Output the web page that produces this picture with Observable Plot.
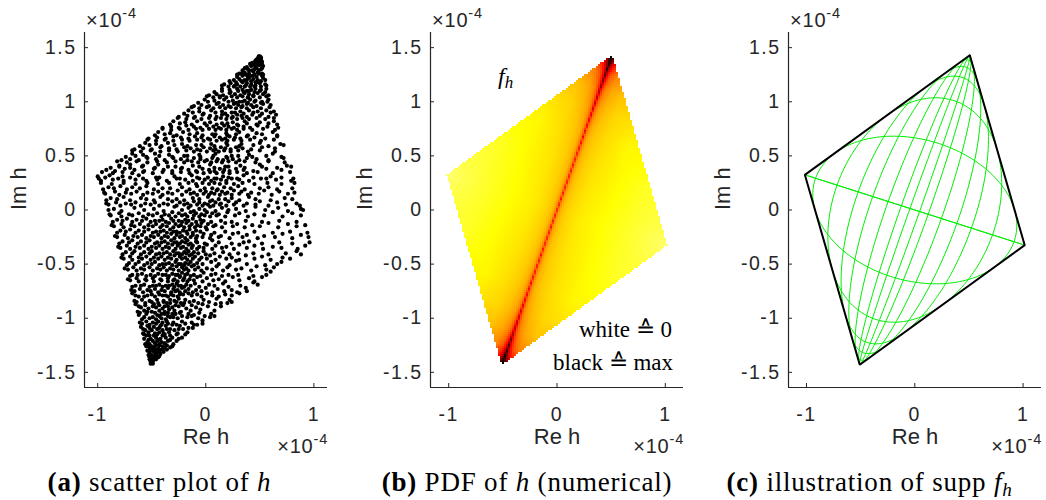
<!DOCTYPE html>
<html>
<head>
<meta charset="utf-8">
<script src="https://cdn.jsdelivr.net/npm/d3@7"></script>
<script src="https://cdn.jsdelivr.net/npm/@observablehq/plot@0.6"></script>
<style>
  body { margin: 0; background: #fff; }
  #fig { position: relative; width: 1046px; height: 500px; overflow: hidden; background: #fff; }
  #fig .panel { position: absolute; top: 0; }
  #fig .panel g[aria-label$="tick label"] text { letter-spacing: 1.5px; }
  #fig svg.overlay { position: absolute; left: 0; top: 0; pointer-events: none; }
</style>
</head>
<body>
<div id="fig"></div>
<script>
// All positions are in units of 1e-4 (the axis exponent).

// Axis ticks shared by the three panels
const xTicks = [-1, 0, 1];
const yTicks = [-1.5, -1, -0.5, 0, 0.5, 1, 1.5];
const yDomain = [-1.64, 1.64];

// Vertices of supp f_h: top, left, bottom, right
const suppCorners = [[0.508, 1.43], [-1.015, 0.325], [-0.508, -1.43], [1.015, -0.325]];

// Phase offsets (degrees) of the inscribed ellipses in panel (c)
const phaseOffsetsDeg = [5, 14, 28, 45, 62, 90, 129, 180];

// Samples of h (Re, Im) in hundredths of 1e-4
const scatterPairs = [
  [-51,-142],[-50,-141],[-51,-140],[-49,-140],[-50,-139],[-52,-138],[-48,-138],[-50,-137],[-47,-137],[-52,-136],[-49,-136],[-45,-136],[-51,-135],[-47,-135],[-43,-135],[-46,-138],
  [-53,-134],[-50,-134],[-46,-133],[-42,-133],[-52,-132],[-48,-131],[-44,-131],[-39,-131],[-54,-130],[-50,-129],[-46,-129],[-41,-129],[-36,-129],[-52,-127],[-48,-127],[-44,-128],[-38,-127],[-33,-127],[-55,-126],[-46,-125],
  [-56,-124],[-52,-124],[-47,-123],[-43,-124],[-38,-123],[-30,-124],[-54,-122],[-49,-121],[-45,-121],[-41,-122],[-35,-121],[-27,-121],[-57,-119],[-51,-119],[-46,-118],[-42,-119],[-37,-118],[-31,-118],[-22,-118],[-55,-116],[-48,-116],[-40,-116],
  [-58,-114],[-53,-113],[-47,-114],[-43,-113],[-39,-114],[-34,-113],[-26,-114],[-17,-113],[-56,-111],[-50,-111],[-45,-110],[-40,-111],[-36,-110],[-29,-111],[-21,-110],[-12,-109],[-60,-108],[-54,-107],[-48,-108],[-42,-107],[-37,-107],[-31,-106],[-24,-107],[-8,-106],
  [-61,-104],[-55,-103],[-49,-104],[-44,-103],[-40,-104],[-36,-103],[-30,-104],[-22,-103],[-13,-104],[-3,-102],[-59,-101],[-52,-100],[-46,-101],[-41,-100],[-37,-101],[-33,-99],[-26,-100],[-17,-99],[-7,-100],[4,-99],[-62,-97],[-55,-96],[-45,-97],[-38,-96],[-28,-96],[-11,-97],
  [-63,-94],[-57,-93],[-50,-94],[-43,-93],[-38,-94],[-34,-92],[-29,-93],[-23,-94],[-14,-93],[-5,-92],[8,-93],[-60,-90],[-53,-91],[-46,-90],[-40,-91],[-35,-89],[-31,-90],[-25,-89],[-18,-91],[-9,-90],[2,-89],[14,-89],[-65,-87],[-48,-87],[-36,-86],[-20,-86],
  [-66,-84],[-59,-83],[-52,-84],[-45,-83],[-39,-84],[-33,-83],[-29,-84],[-25,-82],[-19,-83],[-11,-84],[-2,-83],[10,-82],[22,-83],[-62,-80],[-54,-79],[-47,-80],[-40,-79],[-35,-80],[-30,-79],[-26,-80],[-21,-78],[-13,-79],[-4,-80],[6,-79],[18,-78],[31,-77],[-68,-77],
  [-69,-74],[-61,-73],[-54,-74],[-47,-73],[-41,-74],[-35,-72],[-30,-73],[-26,-74],[-22,-72],[-16,-73],[-9,-74],[0,-72],[11,-73],[24,-74],[37,-72],[-65,-70],[-57,-69],[-49,-70],[-43,-69],[-37,-70],[-31,-69],[-27,-68],[-23,-70],[-18,-69],[-10,-68],[3,-69],[16,-68],[44,-67],
  [-72,-64],[-64,-63],[-56,-64],[-49,-63],[-42,-64],[-35,-63],[-29,-64],[-24,-62],[-20,-63],[-15,-64],[-8,-62],[1,-63],[12,-64],[25,-62],[40,-63],[52,-62],[-68,-60],[-59,-59],[-51,-60],[-44,-59],[-37,-60],[-31,-59],[-26,-60],[-22,-58],[-17,-59],[-11,-60],[-2,-58],[9,-59],[21,-60],[60,-57],
  [-75,-54],[-67,-53],[-60,-54],[-52,-53],[-45,-54],[-39,-53],[-33,-54],[-27,-52],[-22,-53],[-18,-54],[-13,-52],[-7,-53],[1,-54],[10,-52],[20,-53],[33,-54],[47,-52],[63,-53],[-71,-49],[-62,-48],[-54,-49],[-47,-48],[-40,-50],[-34,-49],[-28,-48],[-23,-50],[-19,-49],[-14,-48],[-8,-49],[5,-48],[28,-47],[70,-48],
  [-78,-44],[-70,-43],[-62,-44],[-55,-43],[-48,-44],[-41,-43],[-35,-44],[-29,-42],[-24,-43],[-19,-44],[-15,-42],[-10,-43],[-4,-44],[4,-42],[13,-43],[24,-44],[37,-42],[52,-43],[71,-44],[-74,-39],[-66,-38],[-57,-39],[-50,-38],[-43,-40],[-36,-39],[-30,-38],[-25,-40],[-20,-39],[-16,-38],[-11,-39],[-2,-38],[16,-39],[84,-38],
  [-81,-34],[-73,-33],[-65,-34],[-57,-33],[-50,-34],[-43,-33],[-37,-34],[-31,-32],[-26,-33],[-21,-34],[-16,-32],[-12,-33],[-6,-34],[1,-32],[9,-33],[19,-34],[31,-32],[45,-33],[62,-34],[92,-33],[-77,-29],[-68,-28],[-60,-29],[-52,-28],[-45,-30],[-38,-29],[-32,-28],[-27,-30],[-22,-29],[-17,-28],[-9,-29],[6,-28],[40,-29],
  [-84,-24],[-75,-23],[-67,-24],[-59,-23],[-51,-24],[-44,-23],[-38,-24],[-32,-22],[-27,-23],[-22,-24],[-17,-22],[-12,-23],[-8,-24],[-2,-22],[5,-23],[14,-24],[25,-22],[38,-23],[54,-24],[71,-22],[88,-23],[-79,-19],[-70,-18],[-62,-19],[-53,-18],[-46,-20],[-39,-19],[-33,-18],[-27,-20],[-21,-19],[-15,-18],[-9,-19],[1,-18],
  [-87,-14],[-78,-13],[-69,-14],[-61,-13],[-53,-14],[-46,-13],[-40,-14],[-34,-12],[-28,-13],[-23,-14],[-18,-12],[-13,-13],[-8,-14],[-4,-12],[2,-13],[9,-14],[18,-12],[29,-13],[43,-14],[58,-12],[76,-13],[92,-14],[-82,-9],[-73,-8],[-64,-9],[-55,-8],[-47,-10],[-40,-9],[-32,-8],[-25,-10],[-19,-9],[-12,-8],[-5,-9],
  [-89,-4],[-80,-3],[-71,-4],[-62,-3],[-53,-4],[-45,-3],[-38,-4],[-31,-2],[-25,-3],[-19,-4],[-14,-2],[-9,-3],[-4,-4],[1,-2],[6,-3],[12,-4],[20,-2],[31,-3],[45,-4],[62,-2],[80,-3],[-85,1],[-66,2],[-48,1],[-29,3],[-16,2],[-6,1],[4,3],[15,2],[28,1],[46,3],[67,2],[88,1],
  [-92,6],[-83,7],[-74,6],[-65,7],[-56,6],[-47,7],[-39,6],[-31,8],[-24,7],[-17,6],[-11,8],[-6,7],[-1,6],[4,8],[9,7],[14,6],[21,8],[28,7],[38,6],[50,8],[66,7],[84,6],[-88,11],[-76,12],[-60,11],[-42,12],[-27,10],[-12,11],[2,12],[12,10],[24,11],[40,12],[73,11],
  [-94,16],[-84,17],[-74,16],[-64,17],[-54,16],[-44,17],[-35,16],[-26,18],[-18,17],[-11,16],[-5,18],[0,17],[5,16],[10,18],[15,17],[20,16],[26,18],[33,17],[42,16],[54,18],[68,17],[82,16],[-90,21],[-79,22],[-68,21],[-55,22],[-40,20],[-22,21],[-8,22],[6,20],[17,21],[30,22],[58,21],
  [-97,27],[-86,28],[-76,27],[-65,28],[-55,27],[-45,28],[-36,27],[-27,29],[-19,28],[-12,27],[-6,29],[-1,28],[5,27],[10,29],[14,28],[19,27],[24,29],[31,28],[40,27],[51,29],[65,28],[79,27],[-100,31],[-89,32],[-77,31],[-62,32],[-46,30],[-29,31],[-13,32],[2,30],[16,31],[35,32],[60,31],
  [-92,37],[-84,36],[-75,38],[-66,37],[-57,36],[-48,38],[-39,37],[-31,36],[-23,38],[-16,37],[-9,36],[-3,38],[3,37],[8,36],[13,38],[17,37],[22,36],[28,38],[35,37],[44,36],[56,38],[70,37],[-80,41],[-70,42],[-58,41],[-44,42],[-28,40],[-12,41],[4,42],[18,40],[32,41],[50,42],[75,41],
  [-78,46],[-70,47],[-62,46],[-54,48],[-46,47],[-38,46],[-30,48],[-23,47],[-17,46],[-11,48],[-5,47],[1,46],[6,48],[11,47],[16,46],[20,48],[25,47],[31,46],[38,48],[47,47],[58,46],[72,48],[-68,52],[-58,51],[-47,52],[-34,51],[-20,50],[-6,51],[9,52],[24,50],[40,51],[62,52],
  [-66,56],[-58,57],[-50,56],[-42,58],[-34,57],[-27,56],[-20,58],[-14,57],[-8,56],[-2,58],[4,57],[9,56],[14,58],[18,57],[23,56],[28,58],[34,57],[42,56],[52,58],[64,57],[-56,62],[-46,61],[-35,62],[-22,61],[-9,60],[5,61],[19,62],[33,61],[50,62],[69,61],
  [-53,66],[-45,67],[-37,66],[-30,68],[-23,67],[-16,66],[-10,68],[-4,67],[2,66],[8,68],[13,67],[18,66],[22,68],[27,67],[32,66],[38,68],[45,67],[55,66],[66,68],[-44,72],[-33,71],[-21,72],[-8,71],[6,70],[19,71],[31,72],[47,71],[62,72],
  [-40,76],[-32,77],[-25,76],[-18,78],[-11,77],[-5,76],[1,78],[7,77],[12,76],[17,78],[21,77],[26,76],[30,78],[35,77],[41,76],[48,78],[57,77],[67,76],[-30,82],[-19,81],[-8,82],[4,81],[15,80],[25,81],[36,82],[50,81],[63,82],
  [-25,86],[-17,87],[-10,86],[-3,88],[4,87],[10,86],[15,88],[20,87],[25,86],[29,88],[33,87],[38,86],[43,88],[50,87],[58,86],[65,88],[-16,92],[-6,91],[5,92],[15,91],[24,90],[32,91],[40,92],[48,91],[56,92],[63,91],
  [-11,96],[-4,97],[3,96],[10,98],[16,97],[21,96],[26,98],[30,97],[34,96],[38,98],[42,97],[47,96],[53,98],[60,97],[-1,102],[8,101],[17,102],[25,101],[31,100],[36,101],[41,102],[46,101],[52,100],[58,102],[13,104],[39,104],
  [3,106],[10,107],[16,106],[22,108],[27,107],[32,106],[36,108],[40,107],[44,106],[48,108],[53,107],[58,106],[15,112],[22,111],[29,112],[34,111],[38,110],[42,111],[46,112],[51,111],[56,112],[26,114],[36,114],[45,114],
  [17,116],[23,117],[29,116],[34,118],[38,117],[42,116],[46,118],[50,117],[55,116],[26,120],[31,121],[36,120],[40,122],[44,121],[48,120],[53,122],[29,123],[34,124],[39,123],[43,124],[47,123],[52,124],
  [31,126],[36,127],[40,126],[44,128],[48,127],[52,126],[34,129],[39,130],[43,129],[47,131],[51,130],[38,132],[42,133],[46,132],[50,134],[53,133],[41,135],[45,134],[48,136],[52,135],
  [46,137],[49,137],[51,138],[47,139],[50,139],[48,140],[51,140],[49,141],[50,142],[44,136],[50,136],[46,138],[52,137],[48,138],[49,139],[51,141],
  [-49,-142],[-51,-139],[-48,-135],[-44,-136],[-51,-130],[-47,-130],[-43,-130],[-40,-129],
  [-53,-125],[-50,-126],[-43,-125],[-40,-126],[-36,-125],[-31,-126],[-53,-120],[-44,-120],[-33,-120],[-25,-119],
  [-57,-115],[-52,-116],[-45,-115],[-38,-115],[-33,-116],[-27,-115],[-19,-115],[-58,-110],[-52,-109],[-43,-109],[-33,-110],[-25,-110],[-16,-109],
  [-59,-105],[-52,-106],[-46,-105],[-41,-106],[-35,-105],[-27,-106],[-19,-105],[-11,-106],[-3,-105],[-57,-99],[-49,-99],[-43,-98],[-35,-98],[-30,-99],[-22,-98],[-13,-98],[-1,-98],[8,-98],
  [-61,-95],[-54,-94],[-47,-95],[-41,-96],[-35,-95],[-31,-96],[-24,-95],[-16,-96],[-6,-95],[5,-96],[-62,-89],[-56,-88],[-49,-89],[-43,-88],[-38,-89],[-28,-88],[-21,-88],[-13,-88],[-3,-87],[9,-87],[20,-86],
  [-64,-85],[-56,-86],[-50,-85],[-44,-86],[-39,-85],[-33,-86],[-27,-85],[-23,-86],[-15,-85],[-7,-86],[3,-85],[14,-86],[24,-85],[-65,-79],[-57,-80],[-50,-78],[-43,-78],[-37,-79],[-32,-78],[-24,-78],[-16,-77],[-8,-78],[1,-77],[12,-80],[24,-79],
  [-66,-75],[-58,-76],[-51,-75],[-44,-76],[-38,-75],[-32,-76],[-28,-75],[-24,-76],[-19,-75],[-12,-76],[-4,-75],[6,-76],[17,-75],[29,-76],[38,-75],[-68,-71],[-60,-70],[-52,-71],[-46,-70],[-40,-71],[-34,-70],[-29,-71],[-25,-70],[-20,-71],[-14,-70],[-6,-71],[8,-70],[21,-71],[32,-70],[48,-69],
  [-70,-65],[-62,-66],[-55,-65],[-48,-66],[-41,-65],[-35,-66],[-30,-65],[-26,-66],[-21,-65],[-17,-66],[-11,-65],[-3,-66],[7,-65],[18,-66],[31,-65],[45,-66],[-70,-61],[-63,-60],[-55,-61],[-47,-61],[-40,-60],[-34,-61],[-28,-60],[-24,-61],[-19,-60],[-14,-61],[-5,-61],[5,-60],[15,-61],[30,-60],[44,-61],[56,-60],
  [-72,-55],[-64,-56],[-57,-55],[-49,-56],[-42,-55],[-36,-56],[-30,-55],[-25,-56],[-20,-55],[-16,-56],[-10,-55],[-4,-56],[6,-55],[16,-56],[28,-55],[42,-56],[56,-55],[-73,-51],[-65,-50],[-57,-51],[-50,-50],[-43,-51],[-37,-50],[-31,-51],[-25,-50],[-20,-51],[-16,-50],[-11,-51],[-3,-50],[12,-50],[22,-51],[38,-50],[55,-51],[66,-50],
  [-76,-45],[-68,-46],[-59,-45],[-51,-46],[-44,-45],[-38,-46],[-32,-45],[-27,-46],[-22,-45],[-17,-46],[-12,-45],[-6,-46],[1,-45],[9,-46],[19,-45],[31,-46],[45,-45],[60,-46],[78,-45],[-77,-41],[-68,-40],[-60,-41],[-52,-40],[-46,-41],[-39,-40],[-33,-41],[-27,-40],[-22,-41],[-18,-40],[-13,-41],[-7,-40],[0,-41],[8,-40],[22,-41],[30,-40],[44,-40],[58,-41],[74,-40],[88,-41],
  [-79,-35],[-70,-36],[-61,-35],[-53,-36],[-46,-35],[-40,-36],[-34,-35],[-28,-36],[-23,-35],[-18,-36],[-13,-35],[-8,-36],[-2,-35],[6,-36],[15,-35],[26,-36],[38,-35],[53,-36],[70,-35],[85,-36],[-80,-31],[-71,-30],[-63,-31],[-55,-30],[-47,-31],[-41,-30],[-35,-31],[-29,-30],[-24,-31],[-19,-30],[-14,-31],[-8,-30],[-1,-31],[12,-30],[24,-31],[35,-30],[52,-31],[68,-30],[80,-31],[96,-30],
  [-82,-25],[-72,-26],[-63,-25],[-55,-26],[-48,-25],[-41,-26],[-35,-25],[-29,-26],[-24,-25],[-19,-26],[-14,-25],[-9,-26],[-3,-25],[4,-26],[12,-25],[22,-26],[34,-25],[48,-26],[64,-25],[80,-26],[95,-25],[-82,-21],[-74,-20],[-65,-21],[-57,-20],[-49,-21],[-42,-20],[-36,-21],[-30,-20],[-24,-21],[-18,-20],[-12,-21],[-5,-20],[8,-21],[18,-20],[30,-21],[45,-20],[62,-21],[78,-20],[94,-21],
  [-85,-15],[-76,-16],[-66,-15],[-57,-16],[-49,-15],[-42,-16],[-36,-15],[-30,-16],[-25,-15],[-20,-16],[-15,-15],[-10,-16],[-5,-15],[0,-16],[7,-15],[15,-16],[25,-15],[36,-16],[50,-15],[67,-16],[84,-15],[-86,-11],[-77,-10],[-68,-11],[-59,-10],[-51,-11],[-43,-10],[-37,-11],[-30,-10],[-22,-11],[-16,-10],[-9,-11],[-2,-10],[5,-11],[14,-10],[24,-11],[37,-10],[52,-11],[68,-10],[84,-11],
  [-88,-5],[-78,-6],[-68,-5],[-58,-6],[-49,-5],[-41,-6],[-34,-5],[-28,-6],[-22,-5],[-17,-6],[-11,-5],[-6,-6],[-1,-5],[4,-6],[10,-5],[18,-6],[27,-5],[39,-6],[54,-5],[71,-6],[88,-5],[-90,0],[-78,-1],[-57,0],[-39,-1],[-22,0],[-11,-1],[-1,0],[9,-1],[21,0],[37,-1],[55,0],[76,-1],[90,0],
  [-90,5],[-79,4],[-69,5],[-60,4],[-51,5],[-43,4],[-35,5],[-27,4],[-20,5],[-14,4],[-8,5],[-3,4],[2,5],[7,4],[13,5],[19,4],[26,5],[35,4],[46,5],[58,4],[74,5],[87,4],[-92,9],[-82,10],[-70,9],[-55,10],[-48,9],[-35,10],[-20,9],[-6,10],[6,9],[18,10],[31,9],[46,10],[60,9],[80,10],
  [-93,15],[-80,14],[-69,15],[-58,14],[-49,15],[-40,14],[-31,15],[-22,14],[-14,15],[-8,14],[-2,15],[3,14],[8,15],[13,14],[18,15],[24,14],[31,15],[39,14],[49,15],[61,14],[76,15],[-95,19],[-85,20],[-73,19],[-61,20],[-48,19],[-33,20],[-15,19],[-1,20],[11,19],[23,20],[36,19],[50,20],[66,19],[80,20],
  [-97,25],[-87,24],[-76,25],[-65,24],[-54,25],[-44,24],[-34,25],[-24,24],[-16,25],[-9,24],[-3,25],[3,24],[8,25],[13,24],[19,25],[26,24],[34,25],[45,24],[57,25],[70,24],[82,25],[-99,29],[-93,30],[-81,29],[-70,30],[-58,29],[-43,30],[-24,29],[-8,30],[8,29],[21,30],[29,29],[44,30],[56,29],[70,30],[81,29],
  [-96,35],[-86,34],[-77,35],[-68,34],[-58,35],[-49,34],[-40,35],[-31,34],[-23,35],[-15,34],[-8,35],[-2,34],[4,35],[10,34],[16,35],[22,34],[29,35],[38,34],[48,35],[62,34],[78,35],[-88,39],[-80,40],[-70,39],[-59,40],[-47,39],[-35,40],[-22,39],[-6,40],[8,39],[21,40],[36,39],[52,40],[66,39],[79,40],
  [-82,45],[-73,44],[-64,45],[-54,44],[-45,45],[-36,44],[-28,45],[-20,44],[-13,45],[-7,44],[-1,45],[5,44],[10,45],[15,44],[21,45],[28,44],[36,45],[46,44],[58,45],[73,44],[-74,49],[-65,50],[-55,49],[-43,50],[-31,49],[-17,50],[-5,49],[7,50],[19,49],[30,50],[43,49],[56,50],[70,49],
  [-68,55],[-60,54],[-51,55],[-42,54],[-34,55],[-26,54],[-18,55],[-11,54],[-5,55],[1,54],[7,55],[12,54],[17,55],[23,54],[30,55],[39,54],[50,55],[64,54],[-61,59],[-52,60],[-41,59],[-29,60],[-17,59],[-4,60],[8,59],[20,60],[31,59],[44,60],[58,59],[72,60],
  [-54,65],[-46,64],[-38,65],[-30,64],[-22,65],[-15,64],[-8,65],[-2,64],[4,65],[10,64],[15,65],[20,64],[26,65],[33,64],[41,65],[51,64],[63,65],[-47,69],[-38,70],[-27,69],[-15,70],[-3,69],[9,70],[20,69],[28,70],[39,69],[52,70],[66,69],
  [-40,75],[-32,74],[-24,75],[-16,74],[-9,75],[-3,74],[3,75],[9,74],[14,75],[19,74],[24,75],[29,74],[35,75],[43,74],[53,75],[64,74],[-33,79],[-24,80],[-13,79],[-1,80],[10,79],[20,80],[29,79],[38,80],[47,79],[58,80],[66,79],
  [-26,85],[-18,84],[-11,85],[-4,84],[3,85],[9,84],[14,85],[19,84],[24,85],[29,84],[34,85],[40,84],[47,85],[55,84],[63,85],[-20,89],[-12,90],[-2,89],[9,90],[18,89],[27,90],[35,89],[44,90],[52,89],[60,90],
  [-13,95],[-6,94],[1,95],[7,94],[13,95],[18,94],[23,95],[28,94],[33,95],[38,94],[44,95],[51,94],[59,95],[-7,99],[2,100],[12,99],[21,100],[28,99],[34,100],[39,99],[45,100],[51,99],[57,100],
  [1,105],[7,104],[13,105],[19,104],[24,105],[29,104],[34,105],[39,104],[44,105],[50,104],[56,105],[8,109],[15,110],[23,109],[30,110],[35,109],[40,110],[45,109],[50,110],[55,109],
  [15,115],[21,114],[27,115],[32,114],[37,115],[41,114],[46,115],[51,114],[56,115],[22,119],[28,118],[33,119],[38,120],[42,119],[47,118],[51,119],[55,120],
  [29,125],[33,126],[37,125],[41,124],[45,125],[49,126],[53,125],[36,131],[40,129],[45,130],[49,129],[52,131],[43,136],[46,135],[49,134],[51,136],[47,137],[49,142],[50,141]
];

// Numerical PDF of h, normalised to its maximum.
// Rows: position along the main diagonal (0 = centre, 1 = top/bottom vertex).
// Columns: distance across the diagonal (1 = left/right vertex).
const pdfAlong = [0, 0.3, 0.5, 0.65, 0.78, 0.88, 0.94, 0.98, 1];
const pdfAcross = [0, 0.01, 0.025, 0.05, 0.1, 0.2, 0.4, 0.7, 1];
const pdfLevels = [
  [0.60, 0.44, 0.38, 0.34, 0.31, 0.28, 0.25, 0.20, 0.14],
  [0.61, 0.45, 0.39, 0.35, 0.32, 0.29, 0.26, 0.21, 0.21],
  [0.64, 0.47, 0.41, 0.36, 0.33, 0.30, 0.26, 0.26, 0.26],
  [0.69, 0.52, 0.44, 0.39, 0.35, 0.31, 0.29, 0.29, 0.29],
  [0.78, 0.60, 0.50, 0.43, 0.38, 0.34, 0.34, 0.34, 0.34],
  [0.90, 0.72, 0.60, 0.50, 0.43, 0.41, 0.41, 0.41, 0.41],
  [0.98, 0.85, 0.72, 0.60, 0.53, 0.53, 0.53, 0.53, 0.53],
  [1.00, 0.95, 0.85, 0.78, 0.78, 0.78, 0.78, 0.78, 0.78],
  [1.00, 1.00, 1.00, 1.00, 1.00, 1.00, 1.00, 1.00, 1.00]
];

// ---- derived tables ----
const scatter = scatterPairs.map(([re, im]) => ({re: re / 100, im: im / 100}));

const [P, Q] = suppCorners;
const det = P[0] * Q[1] - P[1] * Q[0];

// Locate v in a sorted breakpoint list: segment index and fraction within it
function locate(breaks, v) {
  let i = 0;
  while (i < breaks.length - 2 && v > breaks[i + 1]) i++;
  const t = (v - breaks[i]) / (breaks[i + 1] - breaks[i]);
  return [i, Math.max(0, Math.min(1, t))];
}

// Tabulated PDF at (Re h, Im h); NaN outside the support
function pdfAt(x, y) {
  const a = (x * Q[1] - y * Q[0]) / det;
  const b = (P[0] * y - P[1] * x) / det;
  const p = Math.abs(a), u = Math.abs(b);
  if (p + u > 1) return NaN;
  const [i, ti] = locate(pdfAlong, p);
  const [j, tj] = locate(pdfAcross, u);
  const r0 = pdfLevels[i][j] * (1 - tj) + pdfLevels[i][j + 1] * tj;
  const r1 = pdfLevels[i + 1][j] * (1 - tj) + pdfLevels[i + 1][j + 1] * tj;
  return r0 * (1 - ti) + r1 * ti;
}

// Inscribed ellipses h = A cos(phi) + B cos(phi - delta), with A + B = P and B - A = Q
const A = [(P[0] - Q[0]) / 2, (P[1] - Q[1]) / 2];
const B = [(P[0] + Q[0]) / 2, (P[1] + Q[1]) / 2];
const ellipses = phaseOffsetsDeg.flatMap((deg) => {
  const d = deg * Math.PI / 180;
  return d3.range(0, 361, 2).map((phiDeg) => {
    const phi = phiDeg * Math.PI / 180;
    const s = Math.cos(phi), t = Math.cos(phi - d);
    return {k: deg, re: A[0] * s + B[0] * t, im: A[1] * s + B[1] * t};
  });
});
const outline = [...suppCorners, suppCorners[0]].map(([re, im]) => ({re, im}));

// MATLAB "hot", flipped so that 0 is white and the maximum is black
function hotFlipped(v) {
  const t = 1 - v;
  const c = (x) => Math.max(0, Math.min(1, x));
  const r = c(t / 0.375), g = c((t - 0.375) / 0.375), b = c((t - 0.75) / 0.25);
  return `rgb(${Math.round(r * 255)},${Math.round(g * 255)},${Math.round(b * 255)})`;
}

// ---- layout ----
const H = 460, marginTop = 32, marginBottom = 73;
const axisColor = "#262626";
const tickLen = 4;
const fmt = (d) => String(d);
const panels = [
  {left: 0, width: 349, marginLeft: 84, marginRight: 22, xDomain: [-1.122, 1.126]},
  {left: 349, width: 349, marginLeft: 81, marginRight: 15, xDomain: [-1.168, 1.168]},
  {left: 698, width: 348, marginLeft: 90, marginRight: 5, xDomain: [-1.166, 1.170]}
];

const content = [
  () => [Plot.dot(scatter, {x: "re", y: "im", r: 2.1, fill: "black"})],
  (pn) => [Plot.raster({
    fill: pdfAt,
    x1: pn.xDomain[0], x2: pn.xDomain[1], y1: yDomain[0], y2: yDomain[1],
    pixelSize: 2, imageRendering: "pixelated"
  })],
  () => [
    Plot.line(ellipses, {x: "re", y: "im", z: "k", stroke: "#00ee00", strokeWidth: 1}),
    Plot.line(outline, {x: "re", y: "im", stroke: "black", strokeWidth: 2, strokeLinejoin: "miter"})
  ]
];

const fig = document.getElementById("fig");
panels.forEach((pn, i) => {
  const frameW = pn.width - pn.marginLeft - pn.marginRight;
  const frameH = H - marginTop - marginBottom;
  const chart = Plot.plot({
    width: pn.width, height: H,
    marginTop, marginBottom, marginLeft: pn.marginLeft, marginRight: pn.marginRight,
    x: {domain: pn.xDomain},
    y: {domain: yDomain},
    color: {type: "linear", domain: [0, 1], interpolate: hotFlipped, clamp: true},
    style: {fontFamily: "'Liberation Sans', Arial, sans-serif", color: axisColor, background: "transparent", overflow: "visible"},
    marks: [
      ...content[i](pn),
      Plot.ruleX([pn.xDomain[0]], {stroke: axisColor, strokeWidth: 1.2}),
      Plot.ruleY([yDomain[0]], {stroke: axisColor, strokeWidth: 1.2}),
      Plot.tickX(xTicks, {x: (d) => d, stroke: axisColor, insetTop: frameH - tickLen}),
      Plot.tickY(yTicks, {y: (d) => d, stroke: axisColor, insetRight: frameW - tickLen}),
      Plot.axisX(xTicks, {tickSize: 0, tickPadding: 20, tickFormat: fmt, fontSize: 19.5, label: null}),
      Plot.axisY(yTicks, {tickSize: 0, tickPadding: 8, tickFormat: fmt, fontSize: 19.5, label: null}),
      Plot.text(["Re h"], {frameAnchor: "bottom", dy: 56, fontSize: 22, fill: axisColor}),
      Plot.text(["Im h"], {frameAnchor: "left", dx: -66, rotate: -90, fontSize: 22, fill: axisColor})
    ]
  });
  chart.classList.add("panel");
  chart.style.left = pn.left + "px";
  fig.appendChild(chart);
});

// Exponent labels, panel annotations and captions
const sans = "'Liberation Sans', Arial, sans-serif";
const serif = "'Liberation Serif', 'Times New Roman', serif";
let overlay = "";
panels.forEach((pn) => {
  const axisX = pn.left + pn.marginLeft;
  const frameRight = pn.left + pn.width - pn.marginRight;
  overlay += `<text x="${axisX + 2}" y="27" font-family="${sans}" font-size="20" letter-spacing="0.8" fill="${axisColor}">×10<tspan dy="-9" font-size="14.5">-4</tspan></text>`;
  overlay += `<text x="${frameRight + 1}" y="453" text-anchor="end" font-family="${sans}" font-size="20" letter-spacing="0.8" fill="${axisColor}">×10<tspan dy="-9" font-size="14.5">-4</tspan></text>`;
});
overlay += `<g font-family="${serif}" fill="#000">
  <text x="498" y="84" font-size="24"><tspan font-style="italic">f</tspan><tspan font-style="italic" font-size="17" dy="4">h</tspan></text>
  <text x="672" y="337" font-size="23" text-anchor="end">white ≙ 0</text>
  <text x="673" y="370" font-size="23" text-anchor="end">black ≙ max</text>
  <text x="159.5" y="491" font-size="27" text-anchor="middle" letter-spacing="0.8"><tspan font-weight="bold">(a)</tspan> scatter plot of <tspan font-style="italic">h</tspan></text>
  <text x="527" y="491" font-size="27" text-anchor="middle" letter-spacing="0.8"><tspan font-weight="bold">(b)</tspan> PDF of <tspan font-style="italic">h</tspan> (numerical)</text>
  <text x="869.5" y="491" font-size="27" text-anchor="middle" letter-spacing="0.8"><tspan font-weight="bold">(c)</tspan> illustration of supp <tspan font-style="italic">f</tspan><tspan font-style="italic" font-size="19" dy="5">h</tspan></text>
</g>`;
const ov = document.createElementNS("http://www.w3.org/2000/svg", "svg");
ov.setAttribute("class", "overlay");
ov.setAttribute("width", 1046);
ov.setAttribute("height", 500);
ov.innerHTML = overlay;
fig.appendChild(ov);
</script>
</body>
</html>
